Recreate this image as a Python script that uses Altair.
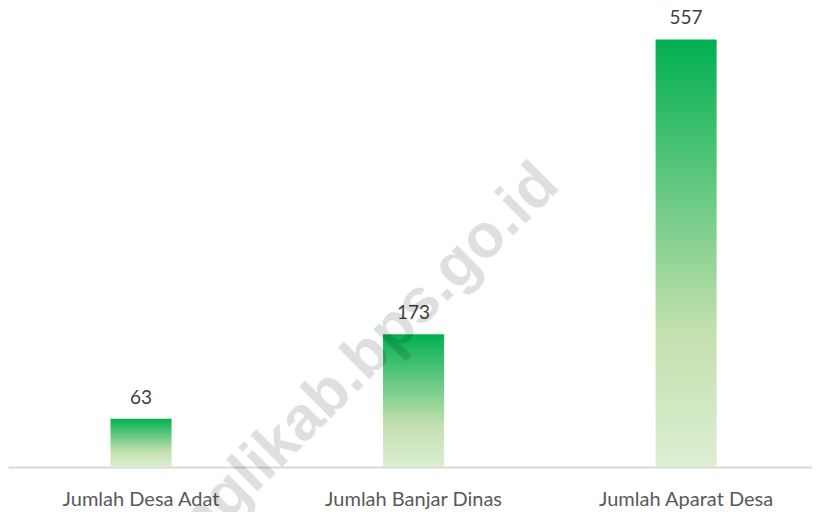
import altair as alt
import pandas as pd

categories = ["Jumlah Desa Adat", "Jumlah Banjar Dinas", "Jumlah Aparat Desa"]
values = [63, 173, 557]
watermark = ["banglikab.bps.go.id"]

df = pd.DataFrame({"kategori": categories, "jumlah": values})

grad = alt.Gradient(
    gradient="linear",
    x1=0, x2=0, y1=0, y2=1,
    stops=[
        alt.GradientStop(color="#00B050", offset=0),
        alt.GradientStop(color="#C3E0AE", offset=0.68),
        alt.GradientStop(color="#DCEED2", offset=1),
    ],
)

x = alt.X(
    "kategori:N",
    sort=categories,
    title=None,
    scale=alt.Scale(paddingInner=0.776, paddingOuter=0.363, align=0.518),
    axis=alt.Axis(
        labelAngle=0, ticks=False, domainColor="#D9D9D9", domainWidth=2,
        labelFont="Lato", labelFontSize=20, labelColor="#595959",
        labelPadding=22,
    ),
)
y = alt.Y("jumlah:Q", scale=alt.Scale(domain=[0, 598]), axis=None)

bars = alt.Chart(df).mark_bar(color=grad, opacity=1).encode(x=x, y=y)
labels = alt.Chart(df).mark_text(
    baseline="alphabetic", dy=-15, font="Lato", fontSize=19, color="#404040"
).encode(x=x, y=y, text="jumlah:Q")

wm = alt.Chart(pd.DataFrame({"t": watermark})).mark_text(
    font="Liberation Sans", fontWeight="bold", fontSize=62, angle=315,
    align="right", baseline="middle", color="#000000", opacity=0.12,
).encode(text="t:N", x=alt.value(540), y=alt.value(166))

chart = (bars + labels + wm).properties(
    width=804, height=459,
    padding={"left": 0, "top": 0, "right": 0, "bottom": 45},
    autosize=alt.AutoSizeParams(type="none"),
).configure_view(strokeWidth=0)

chart.save("out.html", embed_options={"renderer": "svg", "actions": False})
